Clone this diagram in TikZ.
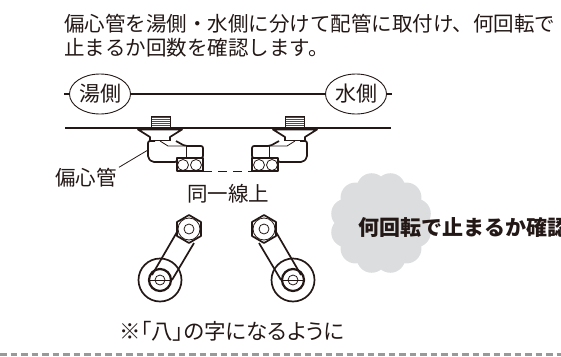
\documentclass[tikz,border=0pt]{standalone}
\usepackage{fontspec}
\setmainfont{Noto Sans CJK JP}
\newfontfamily\notefont[RawFeature=+palt]{Noto Sans CJK JP}
\usetikzlibrary{shapes,positioning}
\definecolor{inkline}{RGB}{35,24,21}
\definecolor{cloudgray}{RGB}{220,221,222}

\begin{document}
\begin{tikzpicture}[
		x=1pt, y=-1pt,
		basic/.style  = {text=inkline, inner sep=0pt, font=\fontsize{20.5pt}{24pt}\selectfont},
		side/.style   = {draw=inkline, ellipse, line width=0.9pt, minimum width=61pt, minimum height=40pt, inner sep=0pt, text=inkline, font=\fontsize{21pt}{24pt}\selectfont},
		pipe/.style   = {draw=inkline, line width=1.3pt},
		part/.style   = {draw=inkline, line width=1.7pt, line join=round},
		fine/.style   = {draw=inkline, line width=0.8pt},
		>=latex]
		
		\useasboundingbox (0,0) rectangle (561,356);
		
		% the cloud behind the bold text
		\fill[cloudgray] (381,223) circle[radius=38pt];
		\foreach \value in {15,45,...,345}
		\fill[cloudgray] (381,223) ++(\value:36pt) circle[radius=15pt];
		
		% texts
		\node[basic, anchor=west] (line1) at (64,24) {偏心管を湯側・水側に分けて配管に取付け、何回転で};
		\node[basic, anchor=west] (line2) at (64,48) {止まるか回数を確認します。};
		\node[basic] (henshin) at (86,178) {偏心管};
		\node[basic] (dousen) at (228,194) {同一線上};
		\node[basic, font=\fontsize{21.5pt}{24pt}\notefont] (note) at (232,331) {※「八」の字になるように};
		\node[basic, anchor=west, font=\fontsize{21pt}{24pt}\selectfont\bfseries] (confirm) at (358,228) {何回転で止まるか確認};
		
		% hot and cold sides, with the wall line
		\node[side] (yu) at (100,94) {湯側};
		\node[side] (sui) at (356,94) {水側};
		\coordinate (yustub) at (64,94);
		\coordinate (suistub) at (392,94);
		\coordinate (wallL) at (65,128);
		\coordinate (wallR) at (391,128);
		\draw[pipe] (yustub) -- (yu.west);
		\draw[pipe] (yu.east) -- (sui.west);
		\draw[pipe] (sui.east) -- (suistub);
		\draw[pipe] (wallL) -- (wallR);
		
		% the two fittings on the wall, the second one mirrored
		\foreach \flip/\off in {1/0,-1/455} {
		\begin{scope}[xshift=\off pt, xscale=\flip]
			\fill[gray!50!inkline] (151,116) rectangle (170,127);
			\foreach \value in {118,120,...,126}
			\draw[white, line width=0.3pt] (151,\value) -- (170,\value);
			\draw[fine] (151,116) rectangle (170,127);
			\draw[part, fill=white] (138,129.5) -- (182,129.5) -- (170,137) -- (170,141) -- (150,141) -- (150,137) -- cycle;
			\draw[part, fill=white, rounded corners=2pt] (155,141) -- (148,141) -- (148,158) -- (152,162) -- (177,162) -- (177,158) -- (203,158) -- (203,146) -- (185,146) -- (176,141);
			\draw[fine] (160,141) -- (168,146) -- (185,146);
			\draw[fine] (186,146) -- (186,158);
			\draw[part, fill=white] (177,158) rectangle (203,171);
			\draw[fine] (183,165) circle[radius=5.5pt];
			\draw[fine] (196,165) circle[radius=5.5pt];
		\end{scope}
		}
		
		% leader and the dashed guide
		\coordinate (leadend) at (148,150);
		\coordinate (guideL) at (203,171);
		\coordinate (guideR) at (252,171);
		\draw[fine] (henshin.north east) ++(2,-1) -- (leadend);
		\draw[fine, dash pattern=on 9pt off 6pt] (guideL) -- (guideR);
		
		% the two arms below, also mirrored
		\foreach \flip/\off in {1/0,-1/453} {
		\begin{scope}[xshift=\off pt, xscale=\flip]
			\draw[part] (160,280) circle[radius=21.5pt];
			\draw[part] (177,232) -- (152,275);
			\draw[part] (194,243) -- (172,280);
			\draw[part, fill=white] (189,215) -- (201,222) -- (201,236) -- (189,243) -- (177,236) -- (177,222) -- cycle;
			\draw[fine] (189,229) circle[radius=11pt];
			\draw[fine] (189,229) circle[radius=5pt];
			\draw[line width=2.2pt, draw=inkline] (160,280) circle[radius=11pt];
			\draw[fine] (160,280) circle[radius=5pt];
			\draw[fine] (149,280) -- (171,280);
		\end{scope}
		}
		
		% dotted border at the bottom
		\coordinate (rimL) at (0,354.5);
		\coordinate (rimR) at (561,354.5);
		\draw[gray!80, line width=3pt, dash pattern=on 6.5pt off 4pt] (rimL) -- (rimR);
		
	\end{tikzpicture}
\end{document}
